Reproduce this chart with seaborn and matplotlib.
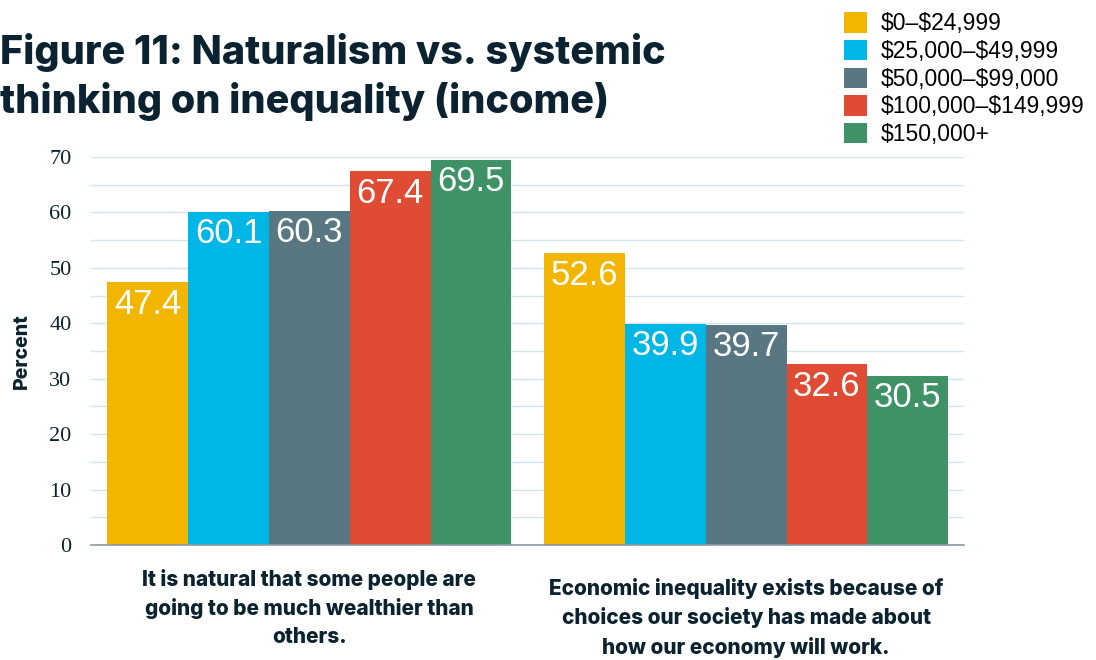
import matplotlib
matplotlib.use("Agg")
import matplotlib.pyplot as plt
import matplotlib.transforms as mtransforms
from matplotlib.patches import Patch
import seaborn as sns
import pandas as pd

# Survey statements (x categories)
statements = [
    "It is natural that some people are\ngoing to be much wealthier than\nothers.",
    "Economic inequality exists because of\nchoices our society has made about\nhow our economy will work.",
]
income_groups = ["$0–$24,999", "$25,000–$49,999", "$50,000–$99,000",
                 "$100,000–$149,999", "$150,000+"]
natural_pct = [47.4, 60.1, 60.3, 67.4, 69.5]
systemic_pct = [52.6, 39.9, 39.7, 32.6, 30.5]
colors = ["#F2B600", "#00B6E6", "#587782", "#E04B33", "#3E9265"]

rows = []
for grp, a, b in zip(income_groups, natural_pct, systemic_pct):
    rows.append({"statement": statements[0], "income": grp, "pct": a})
    rows.append({"statement": statements[1], "income": grp, "pct": b})
df = pd.DataFrame(rows)

sns.set_theme(style="white")
plt.rcParams["text.parse_math"] = False
navy = "#0B2230"

fig = plt.figure(figsize=(10.96, 6.6), dpi=100)
ax = fig.add_axes([0.083, 0.1742, 0.797, 0.588])

sns.barplot(data=df, x="statement", y="pct", hue="income",
            order=statements, hue_order=income_groups,
            palette=colors, width=0.925, gap=0, saturation=1,
            errorbar=None, legend=False, linewidth=0, ax=ax)

ax.set_xlim(-0.5, 1.5)
ax.set_ylim(0, 70)
ax.set_yticks(range(0, 71, 10))
ax.set_yticks(range(5, 70, 10), minor=True)
ax.grid(True, which="both", axis="y", color="#D6E4EC", linewidth=1.0)
ax.set_axisbelow(True)
for s in ["top", "right", "left"]:
    ax.spines[s].set_visible(False)
ax.spines["bottom"].set_color("#8A9AA3")
ax.spines["bottom"].set_linewidth(1.2)
ax.tick_params(axis="y", which="both", length=0, pad=14)
ax.tick_params(axis="x", length=0)
for lab in ax.get_yticklabels():
    lab.set_fontfamily("Liberation Serif")
    lab.set_fontsize(16)
    lab.set_color(navy)
ax.set_xticklabels([])
ax.set_xlabel("")
ax.set_ylabel("Percent", fontsize=14, fontweight="heavy", family="Inter",
              color=navy, labelpad=13)

# Value labels inside the bar tops
for cont in ax.containers:
    for bar in cont:
        h = bar.get_height()
        ax.annotate(f"{h:.1f}", (bar.get_x() + bar.get_width() / 2, h),
                    xytext=(0, -22), textcoords="offset pixels",
                    ha="center", va="center", color="white", fontsize=25,
                    family="Liberation Sans")

# Category labels below the axis
trans = mtransforms.blended_transform_factory(ax.transData, fig.transFigure)
ax.text(0, 1 - 608 / 660, statements[0], transform=trans, ha="center", va="center",
        fontsize=15, fontweight="heavy", family="Inter", color=navy,
        linespacing=1.5)
ax.text(1, 1 - 618 / 660, statements[1], transform=trans, ha="center", va="center",
        fontsize=15, fontweight="heavy", family="Inter", color=navy,
        linespacing=1.5)

# Title
fig.text(0.0, 1 - 77 / 660, "Figure 11: Naturalism vs. systemic\nthinking on inequality (income)",
         ha="left", va="center", fontsize=28.5, fontweight="heavy", family="Inter",
         color=navy, linespacing=1.3)

# Legend
handles = [Patch(facecolor=c, edgecolor="none") for c in colors]
fig.legend(handles, income_groups, loc="upper left",
           bbox_to_anchor=(835 / 1096, 1 - 3 / 660), frameon=False,
           prop={"family": "Liberation Sans", "size": 16.5},
           handlelength=1.0, handleheight=1.0, handletextpad=0.6,
           labelspacing=0.2, borderaxespad=0, labelcolor="black")

fig.savefig("out.png", dpi=100)
